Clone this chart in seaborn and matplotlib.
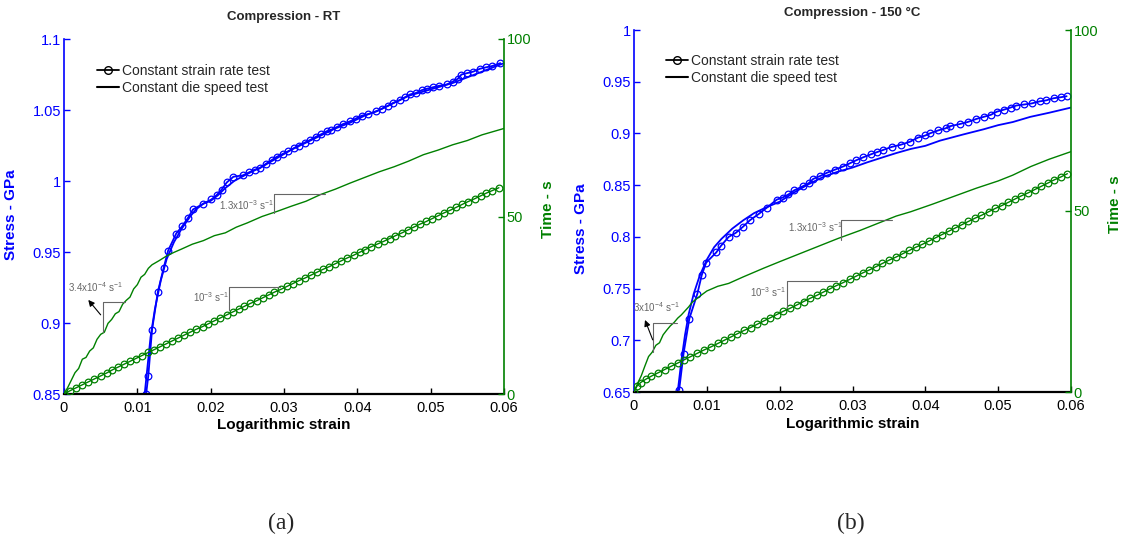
import matplotlib
matplotlib.use("Agg")
import matplotlib.pyplot as plt
import seaborn as sns
from matplotlib.lines import Line2D
from matplotlib.ticker import FuncFormatter

# ---------------- data: (a) Compression - RT ----------------
rt_csr_strain = [0.0112, 0.0115, 0.0120, 0.0128, 0.0136, 0.0142, 0.0153, 0.0161, 0.0169, 0.0176,
                 0.0190, 0.0201, 0.0208, 0.0215, 0.0222, 0.0231, 0.0244, 0.0252, 0.0260, 0.0267,
                 0.0275, 0.0284, 0.0290, 0.0298, 0.0306, 0.0313, 0.0320, 0.0328, 0.0336, 0.0343,
                 0.0351, 0.0358, 0.0364, 0.0372, 0.0380, 0.0390, 0.0398, 0.0406, 0.0414, 0.0426,
                 0.0434, 0.0442, 0.0449, 0.0458, 0.0465, 0.0472, 0.0480, 0.0488, 0.0495, 0.0503,
                 0.0511, 0.0522, 0.0530, 0.0537, 0.0542, 0.0550, 0.0558, 0.0567, 0.0575, 0.0584, 0.0595]
rt_csr_stress = [0.850, 0.863, 0.895, 0.922, 0.939, 0.951, 0.963, 0.968, 0.974, 0.980,
                 0.984, 0.987, 0.990, 0.994, 0.999, 1.003, 1.004, 1.006, 1.008, 1.009,
                 1.012, 1.015, 1.017, 1.019, 1.021, 1.023, 1.025, 1.027, 1.029, 1.031,
                 1.033, 1.035, 1.036, 1.038, 1.040, 1.042, 1.044, 1.046, 1.047, 1.049,
                 1.051, 1.053, 1.055, 1.057, 1.059, 1.061, 1.062, 1.064, 1.065, 1.066,
                 1.067, 1.068, 1.070, 1.072, 1.075, 1.076, 1.077, 1.079, 1.080, 1.081, 1.083]
rt_cds_strain = [0.0110, 0.0114, 0.0118, 0.0124, 0.0132, 0.0140, 0.0150, 0.0160, 0.0172, 0.0180,
                 0.0190, 0.0200, 0.0210, 0.0220, 0.0232, 0.0250, 0.0270, 0.0290, 0.0310, 0.0330,
                 0.0350, 0.0370, 0.0390, 0.0410, 0.0430, 0.0450, 0.0470, 0.0490, 0.0510, 0.0530,
                 0.0550, 0.0570, 0.0600]
rt_cds_stress = [0.850, 0.870, 0.890, 0.910, 0.930, 0.945, 0.957, 0.966, 0.975, 0.980,
                 0.984, 0.986, 0.990, 0.995, 1.000, 1.005, 1.010, 1.016, 1.022, 1.027,
                 1.032, 1.037, 1.041, 1.046, 1.050, 1.055, 1.060, 1.063, 1.066, 1.069,
                 1.073, 1.077, 1.083]
rt_csr_t_strain = [0.0000, 0.0008, 0.0016, 0.0025, 0.0033, 0.0041, 0.0050, 0.0058, 0.0066, 0.0074,
                   0.0082, 0.0090, 0.0098, 0.0106, 0.0115, 0.0123, 0.0131, 0.0139, 0.0147, 0.0156,
                   0.0164, 0.0172, 0.0180, 0.0189, 0.0197, 0.0205, 0.0213, 0.0222, 0.0230, 0.0238,
                   0.0246, 0.0254, 0.0263, 0.0271, 0.0279, 0.0287, 0.0296, 0.0304, 0.0312, 0.0320,
                   0.0329, 0.0337, 0.0345, 0.0353, 0.0362, 0.0370, 0.0378, 0.0386, 0.0395, 0.0403,
                   0.0411, 0.0419, 0.0428, 0.0436, 0.0444, 0.0452, 0.0461, 0.0469, 0.0477, 0.0485,
                   0.0494, 0.0502, 0.0510, 0.0518, 0.0527, 0.0535, 0.0543, 0.0551, 0.0560, 0.0568,
                   0.0576, 0.0584, 0.0593]
rt_csr_time = [0.0, 0.9, 1.7, 2.6, 3.4, 4.2, 5.1, 5.9, 6.8, 7.6,
               8.4, 9.2, 10.0, 10.8, 11.7, 12.5, 13.3, 14.1, 14.9, 15.8,
               16.6, 17.4, 18.2, 19.0, 19.8, 20.6, 21.4, 22.3, 23.1, 23.9,
               24.7, 25.5, 26.3, 27.1, 27.9, 28.7, 29.5, 30.3, 31.1, 31.9,
               32.7, 33.5, 34.3, 35.1, 35.9, 36.7, 37.5, 38.3, 39.1, 39.9,
               40.7, 41.5, 42.3, 43.0, 43.8, 44.6, 45.4, 46.2, 47.0, 47.8,
               48.6, 49.4, 50.2, 51.0, 51.8, 52.6, 53.4, 54.2, 55.0, 55.8,
               56.6, 57.3, 58.1]
rt_cds_t_strain = [0.0, 0.0005, 0.0010, 0.0015, 0.0020, 0.0025, 0.0030, 0.0035, 0.0040, 0.0045,
                   0.0050, 0.0055, 0.0060, 0.0065, 0.0070, 0.0075, 0.0080, 0.0085, 0.0090, 0.0095,
                   0.0100, 0.0105, 0.0110, 0.0115, 0.0120, 0.0130, 0.0140, 0.0150, 0.0160, 0.0175,
                   0.0190, 0.0205, 0.0220, 0.0235, 0.0250, 0.0270, 0.0290, 0.0310, 0.0330, 0.0350,
                   0.0370, 0.0390, 0.0410, 0.0430, 0.0450, 0.0470, 0.0490, 0.0510, 0.0530, 0.0550,
                   0.0570, 0.0600]
rt_cds_time = [0, 1.8, 3.9, 6.0, 7.2, 9.8, 10.3, 12.1, 13.0, 15.4,
               16.8, 17.4, 19.9, 21.0, 22.6, 23.2, 25.3, 26.4, 27.3, 29.6,
               30.8, 32.9, 33.7, 35.4, 36.4, 37.6, 38.9, 39.9, 40.8, 42.2,
               43.2, 44.6, 45.4, 47.0, 48.2, 50.0, 51.4, 52.9, 54.3, 56.2,
               57.7, 59.4, 61.0, 62.6, 64.0, 65.6, 67.4, 68.7, 70.2, 71.4,
               73.0, 74.8]

# ---------------- data: (b) Compression - 150 °C ----------------
ht_csr_strain = [0.0062, 0.0068, 0.0076, 0.0087, 0.0093, 0.0099, 0.0113, 0.0119, 0.0130, 0.0140,
                 0.0150, 0.0159, 0.0171, 0.0182, 0.0196, 0.0204, 0.0212, 0.0220, 0.0232, 0.0240,
                 0.0246, 0.0256, 0.0265, 0.0276, 0.0287, 0.0296, 0.0305, 0.0315, 0.0326, 0.0334,
                 0.0342, 0.0354, 0.0366, 0.0379, 0.0390, 0.0400, 0.0406, 0.0418, 0.0428, 0.0434,
                 0.0447, 0.0458, 0.0470, 0.0480, 0.0490, 0.0498, 0.0508, 0.0517, 0.0525, 0.0536,
                 0.0546, 0.0557, 0.0566, 0.0576, 0.0586, 0.0594]
ht_csr_stress = [0.652, 0.687, 0.721, 0.745, 0.763, 0.775, 0.785, 0.791, 0.800, 0.804,
                 0.810, 0.816, 0.822, 0.828, 0.836, 0.838, 0.841, 0.845, 0.849, 0.852,
                 0.856, 0.859, 0.862, 0.865, 0.868, 0.871, 0.874, 0.877, 0.880, 0.882,
                 0.884, 0.887, 0.889, 0.892, 0.896, 0.898, 0.900, 0.903, 0.905, 0.907,
                 0.909, 0.911, 0.914, 0.916, 0.918, 0.921, 0.923, 0.925, 0.927, 0.928,
                 0.929, 0.931, 0.932, 0.934, 0.935, 0.936]
ht_cds_strain = [0.0060, 0.0065, 0.0070, 0.0075, 0.0082, 0.0090, 0.0100, 0.0110, 0.0120, 0.0135,
                 0.0150, 0.0165, 0.0180, 0.0200, 0.0220, 0.0240, 0.0260, 0.0280, 0.0300, 0.0320,
                 0.0342, 0.0360, 0.0380, 0.0400, 0.0420, 0.0452, 0.0480, 0.0500, 0.0520, 0.0544,
                 0.0570, 0.0600]
ht_cds_stress = [0.650, 0.680, 0.705, 0.725, 0.745, 0.762, 0.778, 0.790, 0.798, 0.808,
                 0.816, 0.823, 0.828, 0.834, 0.843, 0.851, 0.858, 0.863, 0.867, 0.872,
                 0.877, 0.881, 0.885, 0.888, 0.893, 0.899, 0.904, 0.908, 0.911, 0.916,
                 0.920, 0.925]
ht_csr_t_strain = [0.0, 0.0004, 0.0009, 0.0016, 0.0024, 0.0033, 0.0042, 0.0051, 0.0060, 0.0068,
                   0.0077, 0.0087, 0.0096, 0.0106, 0.0115, 0.0124, 0.0133, 0.0142, 0.0151, 0.0160,
                   0.0169, 0.0178, 0.0187, 0.0196, 0.0205, 0.0214, 0.0224, 0.0233, 0.0242, 0.0251,
                   0.0260, 0.0269, 0.0278, 0.0287, 0.0296, 0.0305, 0.0314, 0.0323, 0.0332, 0.0341,
                   0.0350, 0.0360, 0.0369, 0.0378, 0.0387, 0.0396, 0.0405, 0.0414, 0.0423, 0.0432,
                   0.0441, 0.0450, 0.0459, 0.0468, 0.0477, 0.0487, 0.0496, 0.0505, 0.0514, 0.0523,
                   0.0532, 0.0541, 0.0550, 0.0559, 0.0568, 0.0577, 0.0586, 0.0595]
ht_csr_time = [0, 1.6, 2.6, 3.5, 4.4, 5.3, 6.2, 7.1, 8.0, 8.8,
               9.7, 10.7, 11.6, 12.5, 13.4, 14.3, 15.2, 16.1, 17.0, 17.8,
               18.7, 19.6, 20.5, 21.4, 22.3, 23.1, 24.1, 25.0, 25.9, 26.7,
               27.6, 28.5, 29.4, 30.2, 31.1, 32.0, 32.9, 33.7, 34.6, 35.5,
               36.4, 37.3, 38.2, 39.1, 40.0, 40.8, 41.7, 42.6, 43.5, 44.4,
               45.3, 46.2, 47.1, 48.0, 48.8, 49.8, 50.7, 51.5, 52.4, 53.3,
               54.2, 55.0, 55.9, 56.8, 57.7, 58.6, 59.4, 60.3]
ht_cds_t_strain = [0, 0.0005, 0.0010, 0.0015, 0.0020, 0.0025, 0.0030, 0.0035, 0.0040, 0.0045,
                   0.0050, 0.0055, 0.0060, 0.0065, 0.0070, 0.0075, 0.0080, 0.0090, 0.0100, 0.0115,
                   0.0130, 0.0150, 0.0178, 0.0200, 0.0220, 0.0250, 0.0280, 0.0310, 0.0340, 0.0360,
                   0.0380, 0.0410, 0.0440, 0.0470, 0.0500, 0.0520, 0.0545, 0.0570, 0.0600]
ht_cds_time = [0, 2.4, 4.5, 7.2, 9.8, 11.0, 12.9, 13.6, 15.8, 17.1,
               18.3, 19.2, 20.4, 21.3, 22.4, 23.5, 24.8, 26.4, 27.9, 29.2,
               30.0, 31.8, 34.2, 36.0, 37.6, 40.0, 42.4, 44.6, 47.0, 48.6,
               49.8, 51.9, 54.1, 56.3, 58.3, 59.9, 62.3, 64.3, 66.4]

legend_labels = ["Constant strain rate test", "Constant die speed test"]
titles = ["Compression - RT", "Compression - 150 °C"]
panel_tags = ["(a)", "(b)"]
x_ticks = [0, 0.01, 0.02, 0.03, 0.04, 0.05, 0.06]
rt_stress_ticks = [0.85, 0.9, 0.95, 1.0, 1.05, 1.1]
ht_stress_ticks = [0.65, 0.7, 0.75, 0.8, 0.85, 0.9, 0.95, 1.0]
time_ticks = [0, 50, 100]

# annotations: (label, text x, text y, triangle x0, y_low, y_high, x1) in strain / time units
rt_rates = [("3.4x10$^{-4}$ s$^{-1}$", 0.00423, 30.1, 0.00527, 17.5, 26.0, 0.00832),
            ("1.3x10$^{-3}$ s$^{-1}$", 0.0248, 53.2, 0.02868, 51.1, 56.3, 0.0356),
            ("10$^{-3}$ s$^{-1}$", 0.0200, 27.3, 0.0225, 23.7, 30.06, 0.02945)]
ht_rates = [("3x10$^{-4}$ s$^{-1}$", 0.00302, 23.5, 0.00257, 11.1, 19.0, 0.00586),
            ("1.3x10$^{-3}$ s$^{-1}$", 0.02485, 45.6, 0.02838, 42.0, 47.5, 0.03538),
            ("10$^{-3}$ s$^{-1}$", 0.0184, 27.6, 0.02096, 23.1, 30.7, 0.02783)]
rt_arrow = ((0.0050, 22.3), (0.00331, 26.5))
ht_arrow = ((0.00257, 14.4), (0.00151, 19.9))

# ---------------- styling ----------------
sns.set_style("white")
plt.rcParams['font.family'] = ['Liberation Sans', 'DejaVu Sans']
plt.rcParams['mathtext.default'] = 'regular'

BLUE = '#0000ff'
GREEN = '#008000'
GRAY = '#666666'

fig = plt.figure(figsize=(11.21, 5.45), dpi=100)
fmt = FuncFormatter(lambda v, p: "%g" % round(v, 4))


def draw_panel(rect, title, ylim, yticks, csr_s, csr_y, cds_s, cds_y,
               csr_ts, csr_t, cds_ts, cds_t, rates, arrow, title_pad, ylab_y, leg_anchor):
    ax = fig.add_axes(rect)
    ax2 = ax.twinx()
    ax.set_facecolor('none')

    sns.lineplot(x=cds_s, y=cds_y, ax=ax, color=BLUE, lw=1.3, sort=False, estimator=None)
    sns.lineplot(x=csr_s, y=csr_y, ax=ax, color=BLUE, lw=1.3, sort=False, estimator=None,
                 marker='o', ms=4.8, mfc='none', mec=BLUE, mew=0.9)
    sns.lineplot(x=cds_ts, y=cds_t, ax=ax2, color=GREEN, lw=1.0, sort=False, estimator=None)
    sns.lineplot(x=csr_ts, y=csr_t, ax=ax2, color=GREEN, lw=1.0, sort=False, estimator=None,
                 marker='o', ms=4.8, mfc='none', mec=GREEN, mew=0.9)

    ax.set_xlim(0, 0.06)
    ax.set_ylim(*ylim)
    ax2.set_ylim(0, 100)
    ax.set_xticks(x_ticks)
    ax.set_yticks(yticks)
    ax2.set_yticks(time_ticks)
    ax.xaxis.set_major_formatter(fmt)
    ax.yaxis.set_major_formatter(fmt)
    ax2.yaxis.set_major_formatter(fmt)

    for sp in ['top', 'right']:
        ax.spines[sp].set_visible(False)
    ax.spines['left'].set_color(BLUE)
    ax.spines['left'].set_linewidth(1.2)
    ax.spines['bottom'].set_color('black')
    ax.spines['bottom'].set_linewidth(1.6)
    for sp in ['top', 'left', 'bottom']:
        ax2.spines[sp].set_visible(False)
    ax2.spines['right'].set_color(GREEN)
    ax2.spines['right'].set_linewidth(1.2)

    ax.tick_params(axis='x', direction='in', length=4, width=1, colors='black',
                   labelsize=10.5, bottom=True, top=False, pad=5)
    ax.tick_params(axis='y', direction='in', length=4, width=1, colors=BLUE,
                   labelsize=10.5, left=True, right=False, pad=2)
    ax2.tick_params(axis='y', direction='in', length=4, width=1, colors=GREEN,
                    labelsize=10.5, right=True, left=False, pad=2)

    ax.set_xlabel("Logarithmic strain", fontsize=11, fontweight='bold', color='black')
    ax.xaxis.set_label_coords(0.5, -0.088)
    ax.xaxis.label.set_va('center')
    ax.set_ylabel("Stress - GPa", fontsize=11, fontweight='bold', color=BLUE)
    ax.yaxis.set_label_coords(-0.105, ylab_y)
    ax2.set_ylabel("Time - s", fontsize=11, fontweight='bold', color=GREEN)
    ax2.yaxis.set_label_coords(1.085, 0.52)
    ax.set_title(title, fontsize=9.5, fontweight='bold', pad=title_pad)

    for (lab, tx, ty, x0, ylo, yhi, x1) in rates:
        ax2.plot([x0, x0, x1], [ylo, yhi, yhi], color=GRAY, lw=0.8)
        ax2.text(tx, ty, lab, fontsize=7, color=GRAY, ha='center', va='center')
    ax2.annotate('', xy=arrow[1], xytext=arrow[0],
                 arrowprops=dict(arrowstyle='-|>', color='black', lw=0.8,
                                 mutation_scale=9, shrinkA=0, shrinkB=0))

    handles = [Line2D([], [], color='black', lw=1.3, marker='o', ms=5.5, mfc='none', mew=1),
               Line2D([], [], color='black', lw=1.5)]
    ax2.legend(handles, legend_labels, loc='upper left', bbox_to_anchor=leg_anchor,
               frameon=False, fontsize=10, handlelength=1.6, handletextpad=0.2,
               labelspacing=0.25, borderpad=0, borderaxespad=0, numpoints=1)
    return ax, ax2


draw_panel([64 / 1121, 1 - 394 / 545, 440 / 1121, 355 / 545], titles[0], (0.85, 1.1),
           rt_stress_ticks, rt_csr_strain, rt_csr_stress, rt_cds_strain, rt_cds_stress,
           rt_csr_t_strain, rt_csr_time, rt_cds_t_strain, rt_cds_time, rt_rates, rt_arrow,
           title_pad=14, ylab_y=0.505, leg_anchor=(0.075, 0.93))
draw_panel([634 / 1121, 1 - 392 / 545, 437 / 1121, 362 / 545], titles[1], (0.65, 1.0),
           ht_stress_ticks, ht_csr_strain, ht_csr_stress, ht_cds_strain, ht_cds_stress,
           ht_csr_t_strain, ht_csr_time, ht_cds_t_strain, ht_cds_time, ht_rates, ht_arrow,
           title_pad=10, ylab_y=0.45, leg_anchor=(0.073, 0.935))

fig.text(281 / 1121, 1 - 523 / 545, panel_tags[0], fontsize=17, family='Liberation Serif',
         ha='center', va='center')
fig.text(851 / 1121, 1 - 523 / 545, panel_tags[1], fontsize=17, family='Liberation Serif',
         ha='center', va='center')

fig.savefig("out.png", dpi=100)
